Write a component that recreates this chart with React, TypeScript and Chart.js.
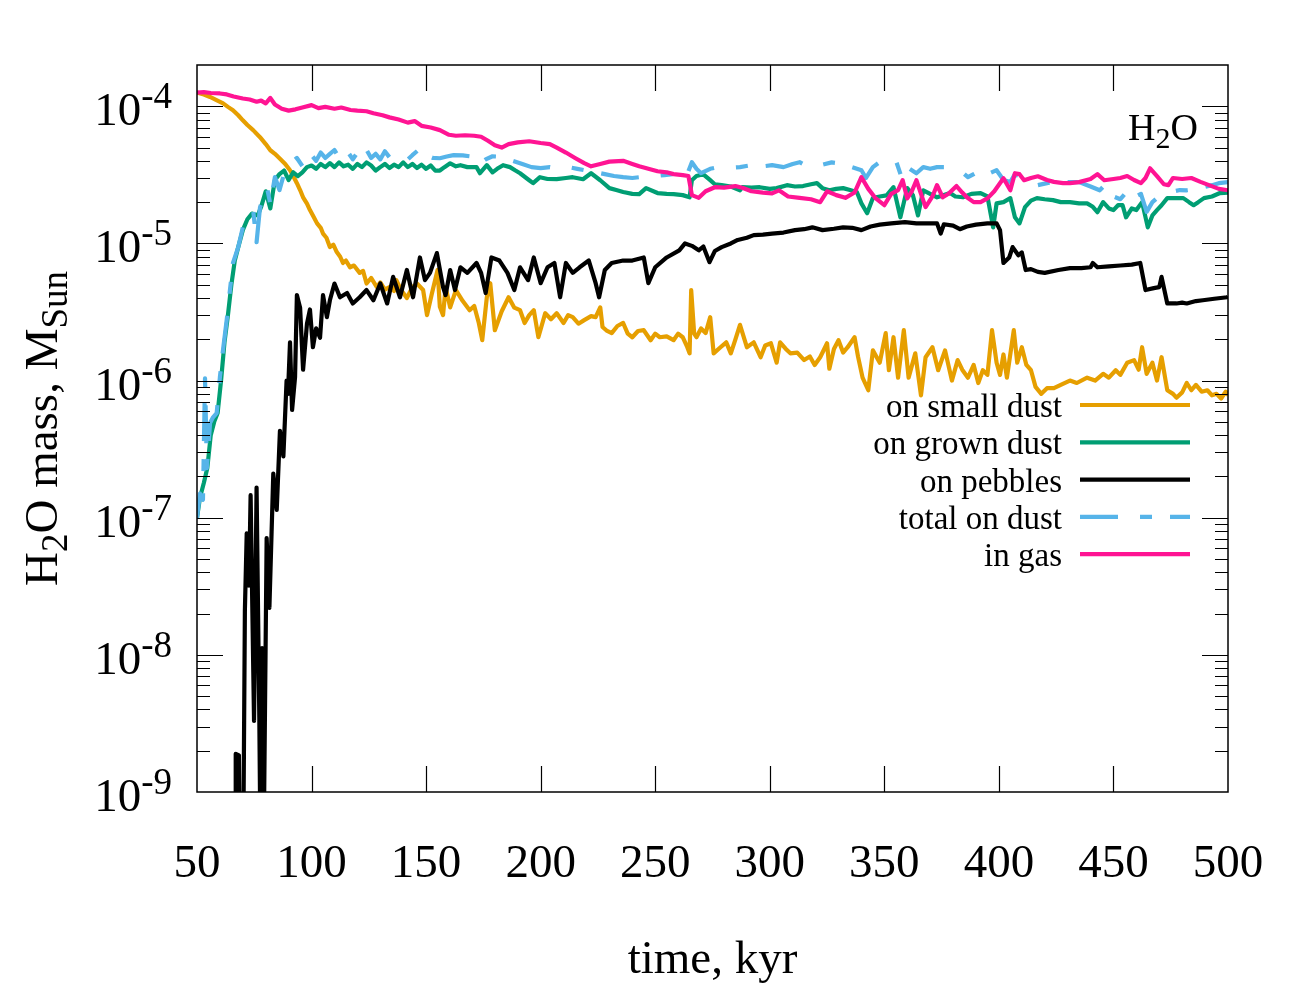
import React, { useEffect, useRef } from 'react';
import { Chart, registerables } from 'chart.js';

Chart.register(...registerables);

// ---------- data (time in kyr, mass in M_Sun) ----------
const X_TICKS = [50, 100, 150, 200, 250, 300, 350, 400, 450, 500];
const Y_DECADES = [-9, -8, -7, -6, -5, -4];
const X_MIN = 50;
const X_MAX = 500;
const Y_MIN = 1e-9;
const Y_MAX = 2e-4;

const SERIES_LABELS = ['on small dust', 'on grown dust', 'on pebbles', 'total on dust', 'in gas'];
const SERIES_COLORS = ['#E69F00', '#009E73', '#000000', '#56B4E9', '#FF1493'];

const smallDust: [number, number][] = [
  [50, 1.26e-4], [53, 1.22e-4], [55.7, 1.17e-4], [58.5, 1.11e-4], [61.4, 1.05e-4], [63.5, 9.9e-5], [65.7, 9.35e-5], [68, 8.6e-5], [70, 7.9e-5], [72, 7.3e-5],
  [74.5, 6.7e-5], [77.5, 5.95e-5], [80, 5.3e-5], [82, 4.78e-5], [84, 4.5e-5], [86, 4.18e-5], [88.5, 3.8e-5], [90.6, 3.42e-5], [92, 3.1e-5], [93.6, 2.75e-5],
  [95, 2.45e-5], [96.3, 2.17e-5], [98, 1.95e-5], [99.3, 1.75e-5], [101, 1.55e-5], [102.4, 1.4e-5], [104, 1.3e-5], [105, 1.18e-5], [106.5, 1.1e-5], [108, 9.4e-6],
  [109.5, 9.8e-6], [111, 8.65e-6], [112.5, 8.0e-6], [113.7, 7.2e-6], [115, 7.5e-6], [116.8, 6.7e-6], [118.5, 6.9e-6], [121, 6.1e-6], [122.5, 6.3e-6], [124, 5.1e-6],
  [126, 5.6e-6], [128.5, 4.8e-6], [130, 5.2e-6], [132, 4.6e-6], [134, 4.8e-6], [136, 4.5e-6], [137, 5.4e-6], [139, 4.6e-6], [141.6, 4.0e-6], [144, 4.8e-6],
  [146, 5.1e-6], [148.7, 4.57e-6], [150.4, 3.0e-6], [152.5, 4.3e-6], [155, 6.4e-6], [156, 3.45e-6], [157.4, 3.0e-6], [158.5, 4.8e-6], [160.5, 3.42e-6], [163, 4.57e-6],
  [166, 3.8e-6], [169, 3.26e-6], [171, 3.5e-6], [173, 2.63e-6], [174.5, 1.97e-6], [176.5, 4.05e-6], [178, 5.13e-6], [180, 2.33e-6], [183, 3.2e-6], [186, 4.05e-6],
  [188.5, 3.4e-6], [191, 3.26e-6], [193, 2.63e-6], [195, 3.0e-6], [197, 3.26e-6], [199, 2.07e-6], [202, 3.1e-6], [204.5, 2.8e-6], [207, 3.1e-6], [210, 2.63e-6],
  [212, 3.0e-6], [214, 2.9e-6], [216.5, 2.6e-6], [219, 2.76e-6], [222, 2.95e-6], [224, 2.9e-6], [226, 3.42e-6], [227, 2.46e-6], [229, 2.3e-6], [231, 2.22e-6],
  [233.5, 2.5e-6], [236, 2.63e-6], [238, 2.2e-6], [240, 2.07e-6], [242.5, 2.3e-6], [245, 2.33e-6], [248, 1.97e-6], [250, 2.2e-6], [252, 2.07e-6], [255, 2.1e-6],
  [258, 1.97e-6], [260, 2.2e-6], [262, 2.07e-6], [264, 1.75e-6], [265, 1.58e-6], [265.7, 4.57e-6], [267, 2.2e-6], [268, 2.07e-6], [270, 2.4e-6], [272, 2.22e-6],
  [274, 2.9e-6], [275.5, 1.58e-6], [278.5, 1.75e-6], [281, 1.9e-6], [283, 1.58e-6], [285, 2.0e-6], [287, 2.55e-6], [290, 1.75e-6], [293, 1.9e-6], [296, 1.48e-6],
  [298, 1.8e-6], [300.5, 1.87e-6], [303, 1.35e-6], [304.5, 1.9e-6], [307, 1.7e-6], [309, 1.58e-6], [312, 1.6e-6], [315, 1.41e-6], [317.5, 1.5e-6], [319.6, 1.3e-6],
  [322, 1.48e-6], [325, 1.87e-6], [326, 1.22e-6], [328, 1.7e-6], [330, 1.97e-6], [332, 1.6e-6], [334, 1.75e-6], [337, 2.07e-6], [338.5, 1.5e-6], [340.5, 1.05e-6],
  [343, 8.5e-7], [345, 1.66e-6], [348, 1.35e-6], [350.6, 2.22e-6], [352, 1.19e-6], [354, 2.07e-6], [356, 1.05e-6], [358.5, 2.33e-6], [360.6, 1.05e-6], [363.5, 1.58e-6],
  [366, 7.8e-7], [368, 1.48e-6], [371, 1.75e-6], [373.5, 1.19e-6], [376.5, 1.66e-6], [379.5, 1.0e-6], [382, 1.41e-6], [384, 1.2e-6], [386.5, 1.05e-6], [389, 1.3e-6],
  [391, 9.6e-7], [393, 1.19e-6], [395, 1.1e-6], [397, 2.33e-6], [399, 1.35e-6], [400.5, 1.1e-6], [402, 1.55e-6], [403.5, 1.05e-6], [406.5, 2.33e-6], [408, 1.35e-6],
  [410, 1.75e-6], [412, 1.3e-6], [414, 1.19e-6], [416, 9.0e-7], [418.5, 8.0e-7], [421, 8.8e-7], [424, 8.8e-7], [427, 9.3e-7], [431, 1.0e-6], [434, 9.6e-7],
  [438.5, 1.05e-6], [442, 1.0e-6], [445.5, 1.12e-6], [448, 1.05e-6], [451, 1.19e-6], [453, 1.1e-6], [456, 1.35e-6], [459, 1.41e-6], [461, 1.2e-6], [462.5, 1.75e-6],
  [464.5, 1.12e-6], [467, 1.35e-6], [469, 1.0e-6], [471, 1.48e-6], [473.5, 8.5e-7], [476, 8.0e-7], [477.5, 7.5e-7], [480, 8.2e-7], [482, 9.6e-7], [484, 8.5e-7],
  [486, 9.3e-7], [488.5, 8.3e-7], [491, 8.5e-7], [493, 7.8e-7], [495, 8.0e-7], [497, 7.4e-7], [499, 8.3e-7], [500, 7.8e-7],
];

const grownDust: [number, number][] = [
  [50, 1.0e-7], [51.3, 1.4e-7], [53, 1.8e-7], [54.5, 2.3e-7], [56, 4.0e-7], [57.5, 5.0e-7], [59, 5.8e-7], [60.5, 1.0e-6], [62, 1.9e-6], [63.5, 3.0e-6],
  [65, 5.0e-6], [66.5, 7.5e-6], [68, 9.4e-6], [70, 1.25e-5], [72, 1.5e-5], [74, 1.65e-5], [76.5, 1.6e-5], [78, 1.85e-5], [80, 2.4e-5], [82, 1.8e-5],
  [84, 2.9e-5], [86, 3.2e-5], [88, 3.4e-5], [90, 2.9e-5], [92, 3.3e-5], [94, 3.1e-5], [96, 3.3e-5], [98, 3.6e-5], [100, 3.7e-5], [102, 3.5e-5],
  [104, 3.8e-5], [106, 3.6e-5], [108, 3.85e-5], [110, 3.6e-5], [112, 3.9e-5], [114, 3.65e-5], [116, 3.75e-5], [118, 3.5e-5], [120, 3.8e-5], [122, 3.6e-5],
  [124, 3.9e-5], [126, 3.7e-5], [128, 3.4e-5], [130, 3.6e-5], [132, 3.8e-5], [134, 3.55e-5], [136, 3.75e-5], [138, 3.6e-5], [140, 3.9e-5], [142, 3.6e-5],
  [144, 3.8e-5], [146, 3.55e-5], [148, 3.75e-5], [150, 3.5e-5], [152, 3.7e-5], [154, 3.4e-5], [156, 3.4e-5], [158, 3.6e-5], [160.5, 3.84e-5], [163, 3.65e-5],
  [165, 3.72e-5], [168, 3.6e-5], [172, 3.6e-5], [173.5, 3.25e-5], [176.5, 3.72e-5], [179, 3.3e-5], [181, 3.5e-5], [183.6, 3.72e-5], [186.6, 3.6e-5], [189, 3.4e-5],
  [191, 3.25e-5], [195, 2.89e-5], [196.7, 2.75e-5], [199.7, 3.04e-5], [203, 2.95e-5], [207, 2.94e-5], [211, 3.0e-5], [214, 3.04e-5], [218.5, 2.94e-5], [222, 3.25e-5],
  [226, 2.89e-5], [230, 2.53e-5], [233, 2.45e-5], [236, 2.37e-5], [240, 2.3e-5], [243, 2.29e-5], [246, 2.53e-5], [251, 2.33e-5], [255, 2.3e-5], [258, 2.29e-5],
  [262, 2.25e-5], [265, 2.17e-5], [266, 2.89e-5], [268, 3.1e-5], [271, 3.19e-5], [274, 2.89e-5], [276, 2.7e-5], [279, 2.66e-5], [283, 2.6e-5], [287, 2.44e-5],
  [288, 2.57e-5], [292, 2.55e-5], [295.6, 2.57e-5], [300, 2.5e-5], [303, 2.53e-5], [307.5, 2.66e-5], [311, 2.6e-5], [314.5, 2.62e-5], [318, 2.7e-5], [320.6, 2.75e-5],
  [323, 2.53e-5], [326, 2.44e-5], [329, 2.5e-5], [332, 2.53e-5], [335, 2.45e-5], [338, 2.37e-5], [340, 1.96e-5], [342.5, 1.66e-5], [345, 2.14e-5], [348, 2.2e-5],
  [351, 2.24e-5], [354, 2.57e-5], [357, 1.55e-5], [360, 2.53e-5], [362.5, 2.24e-5], [364.7, 1.6e-5], [367, 2.44e-5], [370, 2.3e-5], [373, 2.17e-5], [376, 2.25e-5],
  [378.7, 2.33e-5], [381, 2.2e-5], [384.3, 2.17e-5], [388, 2.3e-5], [392, 2.33e-5], [395, 2.2e-5], [397.5, 1.31e-5], [399, 1.96e-5], [402, 2.0e-5], [405, 2.14e-5],
  [407, 1.55e-5], [409, 1.4e-5], [411.4, 1.84e-5], [414, 2.05e-5], [416.6, 2.14e-5], [420, 2.1e-5], [423.6, 2.07e-5], [427, 2.0e-5], [431, 2.0e-5], [435, 1.96e-5],
  [438.5, 1.96e-5], [441, 1.85e-5], [443, 1.69e-5], [445.5, 2.0e-5], [448, 1.8e-5], [450, 1.75e-5], [452, 1.9e-5], [454, 1.9e-5], [455.5, 1.55e-5], [458, 1.8e-5],
  [460, 1.75e-5], [462.5, 2.0e-5], [465, 1.31e-5], [467, 1.6e-5], [469, 1.75e-5], [471, 1.9e-5], [473.5, 2.14e-5], [477, 2.14e-5], [480.5, 2.14e-5], [483, 2.0e-5],
  [485, 1.9e-5], [487, 2.0e-5], [489.5, 2.14e-5], [493, 2.2e-5], [496.5, 2.33e-5], [500, 2.35e-5],
];

const pebbles: [number, number][] = [
  [66.6, 4e-10], [66.9, 1.9e-9], [68.3, 1.85e-9], [68.6, 4e-10], [70.2, 4e-10], [70.9, 2.1e-8], [71.7, 7.7e-8], [72.7, 3.2e-8], [73.4, 1.46e-7],
  [74.9, 3.3e-9], [76, 1.66e-7], [77.2, 3.5e-9], [77.7, 4e-10], [78.4, 1.12e-8], [79.1, 4e-10], [80.4, 7.1e-8], [81.6, 2.2e-8], [83.3, 2.1e-7], [84.8, 1.14e-7],
  [86.2, 4.3e-7], [87.7, 2.8e-7], [89.1, 1.0e-6], [89.7, 8e-7], [90.6, 1.9e-6], [91.5, 6.1e-7], [92.8, 1.06e-6], [93.6, 4.2e-6], [95, 3.4e-6], [96.3, 1.2e-6],
  [98, 2.6e-6], [99.3, 3.3e-6], [100.6, 1.75e-6], [102, 2.4e-6], [103.7, 2.05e-6], [105, 4.2e-6], [106.7, 2.9e-6], [108, 3.85e-6], [110, 5.1e-6], [112.4, 4.05e-6],
  [115.5, 4.35e-6], [118, 3.65e-6], [121, 4.05e-6], [124, 4.57e-6], [127, 3.85e-6], [130, 5.1e-6], [133, 3.65e-6], [135.6, 5.7e-6], [138.6, 4.05e-6], [141.6, 6.4e-6],
  [144.3, 4.05e-6], [147.3, 7.9e-6], [149.5, 5.4e-6], [151.7, 6.1e-6], [154.7, 8.5e-6], [157.4, 4.8e-6], [158.5, 4.2e-6], [160.5, 6.4e-6], [162.6, 4.57e-6], [165, 6.7e-6],
  [168, 6.1e-6], [172, 7.2e-6], [174, 6.1e-6], [176, 4.35e-6], [178.5, 7.9e-6], [182, 7.5e-6], [185.5, 6.1e-6], [188.5, 4.57e-6], [191, 6.7e-6], [194.5, 5.4e-6],
  [197, 7.9e-6], [200, 5.13e-6], [203, 6.7e-6], [206, 7.2e-6], [208.5, 4.05e-6], [211, 7.2e-6], [214, 6.1e-6], [217, 6.7e-6], [221, 7.5e-6], [224, 5.13e-6],
  [225.5, 4.05e-6], [228, 6.4e-6], [231, 7.2e-6], [236, 7.5e-6], [240, 7.5e-6], [245, 7.9e-6], [247, 5.13e-6], [250, 6.7e-6], [255, 7.9e-6], [260.5, 8.9e-6],
  [263, 1.0e-5], [266, 9.6e-6], [269, 8.9e-6], [271, 9.5e-6], [273.7, 7.3e-6], [276, 8.8e-6], [279, 9.4e-6], [283, 1.0e-5], [286, 1.06e-5], [290, 1.1e-5],
  [293, 1.15e-5], [297, 1.16e-5], [301, 1.18e-5], [306, 1.2e-5], [311, 1.25e-5], [315, 1.27e-5], [318.6, 1.31e-5], [323, 1.25e-5], [328, 1.28e-5], [332, 1.31e-5],
  [336, 1.3e-5], [340, 1.25e-5], [344, 1.33e-5], [348, 1.37e-5], [353, 1.4e-5], [359, 1.43e-5], [364, 1.4e-5], [369, 1.4e-5], [373, 1.4e-5], [374.6, 1.18e-5],
  [376, 1.38e-5], [380, 1.35e-5], [383, 1.27e-5], [386, 1.33e-5], [390, 1.37e-5], [395, 1.4e-5], [399, 1.4e-5], [400.5, 1.25e-5], [402, 7.2e-6], [404.5, 7.9e-6],
  [406, 9.4e-6], [408.5, 8.2e-6], [410, 8.6e-6], [411.7, 6.4e-6], [414, 6.5e-6], [417, 6.2e-6], [420, 6.1e-6], [426, 6.4e-6], [431, 6.6e-6], [436, 6.6e-6],
  [440, 6.7e-6], [441, 7.2e-6], [443, 6.7e-6], [448, 6.8e-6], [453, 6.9e-6], [458, 7.0e-6], [461.7, 7.2e-6], [464, 4.57e-6], [467.6, 4.72e-6], [470, 4.8e-6],
  [471, 5.7e-6], [473.5, 3.65e-6], [477.5, 3.65e-6], [480, 3.7e-6], [482, 3.65e-6], [486, 3.8e-6], [489, 3.85e-6], [494, 3.95e-6], [499.6, 4.05e-6], [500, 4.1e-6],
];

const totalDust: [number, number][] = [
  [50, 1.0e-7], [51.3, 1.5e-7], [52.6, 1.35e-7], [53.5, 1.04e-6], [54.3, 2.3e-7], [55.7, 4.9e-7], [57, 5.4e-7], [58.6, 5.8e-7], [60, 1.06e-6], [61.4, 1.7e-6],
  [63, 2.8e-6], [64.4, 4.6e-6], [65.7, 7.2e-6], [68, 9.4e-6], [70, 1.31e-5], [72, 1.47e-5], [74.5, 1.75e-5], [76, 1.02e-5], [77.5, 1.83e-5], [80.5, 2.57e-5],
  [82, 1.95e-5], [84, 3.05e-5], [86, 2.45e-5], [88.4, 3.4e-5], [90.6, 3.85e-5], [93.6, 4.2e-5], [96.3, 3.6e-5], [98, 4.0e-5], [100, 4.4e-5], [102, 4.0e-5],
  [104, 4.6e-5], [106, 4.2e-5], [108, 4.5e-5], [110, 4.8e-5], [112, 4.2e-5], [114, 4.0e-5], [116, 4.6e-5], [118, 4.1e-5], [120, 4.6e-5], [122, 4.3e-5],
  [124, 4.8e-5], [126, 4.2e-5], [128, 4.5e-5], [130, 4.1e-5], [132, 4.7e-5], [134, 4.25e-5], [136, 4.4e-5], [138, 4.2e-5], [140, 4.35e-5], [142, 4.1e-5],
  [144, 4.4e-5], [147, 4.86e-5], [150, 4.4e-5], [153, 4.2e-5], [156, 4.18e-5], [159, 4.3e-5], [162, 4.4e-5], [166, 4.39e-5], [170, 4.3e-5], [172, 4.4e-5],
  [173.5, 3.84e-5], [176, 4.1e-5], [179, 4.32e-5], [181, 4.3e-5], [184, 4.1e-5], [188, 4.0e-5], [192, 3.8e-5], [196, 3.6e-5], [200, 3.54e-5], [204, 3.6e-5],
  [208, 3.5e-5], [212, 3.6e-5], [216, 3.5e-5], [220, 3.4e-5], [224, 3.3e-5], [228, 3.2e-5], [232, 3.1e-5], [236, 3.04e-5], [240, 3.0e-5], [243, 3.04e-5],
  [246, 3.1e-5], [250, 3.1e-5], [254, 3.15e-5], [258, 3.2e-5], [264, 3.2e-5], [266, 3.91e-5], [268, 3.5e-5], [270, 3.25e-5], [274, 3.5e-5], [277.5, 3.6e-5],
  [282, 3.55e-5], [287, 3.6e-5], [292, 3.72e-5], [297, 3.65e-5], [301, 3.72e-5], [306, 3.6e-5], [310, 3.8e-5], [313, 3.91e-5], [317, 3.6e-5], [322, 3.72e-5],
  [327, 3.9e-5], [332, 3.8e-5], [336, 3.6e-5], [340, 3.42e-5], [342, 3.0e-5], [345, 3.6e-5], [349, 4.04e-5], [352, 3.9e-5], [355, 4.04e-5], [357.5, 3.04e-5],
  [360, 3.6e-5], [364, 3.25e-5], [367, 3.6e-5], [370, 3.5e-5], [373, 3.6e-5], [377, 3.6e-5], [380, 3.5e-5], [384, 3.3e-5], [386.5, 3.04e-5], [389, 3.2e-5],
  [392, 3.4e-5], [396, 3.25e-5], [399, 3.42e-5], [402, 2.9e-5], [405, 2.8e-5], [407, 3.2e-5], [410, 3.0e-5], [413, 2.8e-5], [417, 2.66e-5], [421, 2.75e-5],
  [424, 2.8e-5], [430, 2.8e-5], [435, 2.8e-5], [440, 2.6e-5], [444, 2.44e-5], [447, 2.75e-5], [450, 2.2e-5], [453, 2.1e-5], [456, 2.4e-5], [459, 2.17e-5],
  [462, 2.3e-5], [464.5, 1.7e-5], [467, 2.0e-5], [469, 2.14e-5], [472, 2.3e-5], [475, 2.37e-5], [479, 2.45e-5], [482, 2.44e-5], [486, 2.5e-5], [489.5, 2.57e-5],
  [493, 2.66e-5], [496, 2.75e-5], [500, 2.8e-5],
];

const inGas: [number, number][] = [
  [50, 1.26e-4], [53, 1.27e-4], [56, 1.25e-4], [60, 1.24e-4], [63, 1.22e-4], [66, 1.18e-4], [70, 1.14e-4], [73, 1.12e-4], [76, 1.08e-4], [78, 1.1e-4],
  [80, 1.05e-4], [82, 1.15e-4], [84, 1.03e-4], [87, 0.96e-4], [90, 0.93e-4], [93, 0.95e-4], [96, 0.98e-4], [100, 1.02e-4], [103, 0.97e-4], [106, 0.99e-4],
  [110, 0.96e-4], [113, 0.98e-4], [117, 0.94e-4], [120, 0.93e-4], [124, 0.92e-4], [127, 0.89e-4], [131, 0.86e-4], [134, 0.83e-4], [138, 0.8e-4], [142, 0.76e-4],
  [145, 0.78e-4], [148, 0.72e-4], [152, 0.7e-4], [156, 0.67e-4], [160, 0.62e-4], [163, 0.61e-4], [167, 0.615e-4], [171, 0.61e-4], [174, 0.6e-4], [177, 0.56e-4],
  [180, 0.52e-4], [183, 0.5e-4], [186, 0.53e-4], [190, 0.545e-4], [195, 0.556e-4], [200, 0.54e-4], [204, 0.53e-4], [207, 0.5e-4], [211, 0.46e-4], [215, 0.42e-4],
  [219, 0.385e-4], [222, 0.365e-4], [226, 0.38e-4], [230, 0.395e-4], [236, 0.4e-4], [240, 0.38e-4], [243, 0.365e-4], [247, 0.35e-4], [251, 0.336e-4], [255, 0.33e-4],
  [258, 0.32e-4], [262, 0.315e-4], [264.5, 0.31e-4], [266, 0.225e-4], [269, 0.215e-4], [272, 0.24e-4], [276, 0.257e-4], [280, 0.255e-4], [285, 0.262e-4], [288, 0.255e-4],
  [292, 0.24e-4], [297, 0.235e-4], [301, 0.232e-4], [304, 0.244e-4], [308, 0.22e-4], [313, 0.215e-4], [318, 0.21e-4], [322, 0.2e-4], [325, 0.24e-4], [329, 0.225e-4],
  [333, 0.215e-4], [337, 0.235e-4], [340, 0.304e-4], [343, 0.25e-4], [346, 0.215e-4], [350, 0.19e-4], [353, 0.23e-4], [356, 0.245e-4], [358, 0.289e-4], [360, 0.213e-4],
  [362, 0.24e-4], [364, 0.289e-4], [366, 0.23e-4], [368, 0.184e-4], [371, 0.22e-4], [373, 0.266e-4], [375.5, 0.217e-4], [378, 0.23e-4], [381.5, 0.262e-4], [384, 0.235e-4],
  [386, 0.217e-4], [389, 0.2e-4], [392, 0.2e-4], [395, 0.213e-4], [398, 0.24e-4], [402, 0.299e-4], [405, 0.244e-4], [407, 0.325e-4], [409, 0.32e-4], [411, 0.289e-4],
  [414, 0.3e-4], [417, 0.309e-4], [421, 0.29e-4], [424, 0.281e-4], [428, 0.275e-4], [431, 0.275e-4], [435, 0.28e-4], [440, 0.295e-4], [443, 0.32e-4], [446, 0.289e-4],
  [450, 0.295e-4], [453, 0.3e-4], [456, 0.31e-4], [459, 0.29e-4], [462, 0.275e-4], [464, 0.3e-4], [466, 0.353e-4], [469, 0.31e-4], [472, 0.27e-4], [474, 0.266e-4],
  [476, 0.3e-4], [480, 0.295e-4], [484, 0.3e-4], [488, 0.281e-4], [492, 0.265e-4], [496, 0.25e-4], [500, 0.244e-4],
];

// ---------- styling ----------
const FONT = "'Liberation Serif', 'Times New Roman', serif";
const MAIN_SIZE = 47;
const SUB_SIZE = 37;
const LEGEND_SIZE = 33;
const DASH_DOT = [38, 22, 12, 18];
const LINE_W = 4.2;

type Seg = { t: string; s: number; dy: number };

function drawRich(ctx: CanvasRenderingContext2D, segs: Seg[], x: number, y: number, align: 'left' | 'right' | 'center') {
  let total = 0;
  const widths: number[] = [];
  for (const g of segs) {
    ctx.font = `${g.s}px ${FONT}`;
    const w = ctx.measureText(g.t).width;
    widths.push(w);
    total += w;
  }
  let cx = align === 'left' ? x : align === 'right' ? x - total : x - total / 2;
  ctx.textAlign = 'left';
  ctx.textBaseline = 'alphabetic';
  segs.forEach((g, i) => {
    ctx.font = `${g.s}px ${FONT}`;
    ctx.fillText(g.t, cx, y + g.dy);
    cx += widths[i];
  });
}

const framePlugin = {
  id: 'gnuplotFrame',
  afterDatasetsDraw(chart: any) {
    const { ctx, chartArea: a, scales } = chart;
    const xs = scales.x;
    const ys = scales.y;
    ctx.save();
    ctx.strokeStyle = '#000';
    ctx.fillStyle = '#000';
    ctx.lineWidth = 1.2;
    ctx.setLineDash([]);

    // x ticks (inward, mirrored) - skip the ones lying on the frame
    ctx.beginPath();
    for (const t of X_TICKS) {
      if (t === X_MIN || t === X_MAX) continue;
      const px = Math.round(xs.getPixelForValue(t)) + 0.5;
      ctx.moveTo(px, a.bottom);
      ctx.lineTo(px, a.bottom - 26);
      ctx.moveTo(px, a.top);
      ctx.lineTo(px, a.top + 26);
    }
    // y ticks (major + minor, inward, mirrored)
    for (const d of Y_DECADES) {
      for (let m = 1; m <= 9; m++) {
        const v = m * Math.pow(10, d);
        if (v > Y_MAX * 0.999 || v < Y_MIN * 1.001) continue;
        const py = Math.round(ys.getPixelForValue(v)) + 0.5;
        const len = m === 1 ? 26 : 13;
        ctx.moveTo(a.left, py);
        ctx.lineTo(a.left + len, py);
        ctx.moveTo(a.right, py);
        ctx.lineTo(a.right - len, py);
      }
    }
    ctx.stroke();

    // border
    ctx.lineWidth = 1.5;
    ctx.strokeRect(a.left, a.top, a.right - a.left, a.bottom - a.top);

    // x tick labels
    for (const t of X_TICKS) {
      const px = xs.getPixelForValue(t);
      drawRich(ctx, [{ t: String(t), s: MAIN_SIZE, dy: 0 }], px, a.bottom + 85, 'center');
    }
    // y tick labels 10^d
    for (const d of Y_DECADES) {
      const py = ys.getPixelForValue(Math.pow(10, d));
      drawRich(
        ctx,
        [
          { t: '10', s: MAIN_SIZE, dy: 0 },
          { t: String(d), s: SUB_SIZE, dy: -17 },
        ],
        a.left - 25,
        py + 19,
        'right'
      );
    }

    // x title
    drawRich(ctx, [{ t: 'time, kyr', s: MAIN_SIZE, dy: 0 }], (a.left + a.right) / 2, 973, 'center');

    // y title (rotated)
    ctx.save();
    ctx.translate(57, (a.top + a.bottom) / 2);
    ctx.rotate(-Math.PI / 2);
    drawRich(
      ctx,
      [
        { t: 'H', s: MAIN_SIZE, dy: 0 },
        { t: '2', s: SUB_SIZE, dy: 10 },
        { t: 'O mass, M', s: MAIN_SIZE, dy: 0 },
        { t: 'Sun', s: SUB_SIZE, dy: 10 },
      ],
      0,
      0,
      'center'
    );
    ctx.restore();

    // species label
    drawRich(
      ctx,
      [
        { t: 'H', s: 38, dy: 0 },
        { t: '2', s: 30, dy: 8 },
        { t: 'O', s: 38, dy: 0 },
      ],
      a.right - 30,
      140,
      'right'
    );

    // legend (gnuplot style: text right-aligned, sample to the right)
    const rowY0 = 405;
    const rowStep = 37.3;
    SERIES_LABELS.forEach((label, i) => {
      const y = rowY0 + i * rowStep;
      drawRich(ctx, [{ t: label, s: LEGEND_SIZE, dy: 0 }], 1062, y + 12, 'right');
      ctx.beginPath();
      ctx.strokeStyle = SERIES_COLORS[i];
      ctx.lineWidth = LINE_W;
      ctx.setLineDash(i === 3 ? DASH_DOT : []);
      ctx.moveTo(1080, y);
      ctx.lineTo(1190, y);
      ctx.stroke();
    });
    ctx.setLineDash([]);
    ctx.restore();
  },
};

const toPoints = (arr: [number, number][]) => arr.map(([x, y]) => ({ x, y }));

export default function App() {
  const ref = useRef<HTMLCanvasElement>(null);

  useEffect(() => {
    if (!ref.current) return;
    const series = [smallDust, grownDust, pebbles, totalDust, inGas];
    const drawOrder = [4, 3, 2, 1, 0];
    const chart = new Chart(ref.current, {
      type: 'line',
      data: {
        datasets: series.map((s, i) => ({
          label: SERIES_LABELS[i],
          data: toPoints(s),
          borderColor: SERIES_COLORS[i],
          backgroundColor: SERIES_COLORS[i],
          borderWidth: LINE_W,
          borderDash: i === 3 ? DASH_DOT : [],
          borderJoinStyle: 'round' as const,
          pointRadius: 0,
          fill: false,
          tension: 0,
          clip: 0,
          order: drawOrder[i],
        })),
      },
      options: {
        responsive: false,
        animation: false,
        events: [],
        layout: { padding: { left: 197, top: 65, right: 72, bottom: 208 } },
        plugins: { legend: { display: false }, tooltip: { enabled: false } },
        scales: {
          x: { type: 'linear', min: X_MIN, max: X_MAX, display: false },
          y: { type: 'logarithmic', min: Y_MIN, max: Y_MAX, display: false },
        },
      },
      plugins: [framePlugin],
    });
    return () => chart.destroy();
  }, []);

  return (
    <div style={{ position: 'absolute', left: 0, top: 0, width: 1300, height: 1000, background: '#fff' }}>
      <canvas ref={ref} width={1300} height={1000} style={{ display: 'block', width: 1300, height: 1000 }} />
    </div>
  );
}
